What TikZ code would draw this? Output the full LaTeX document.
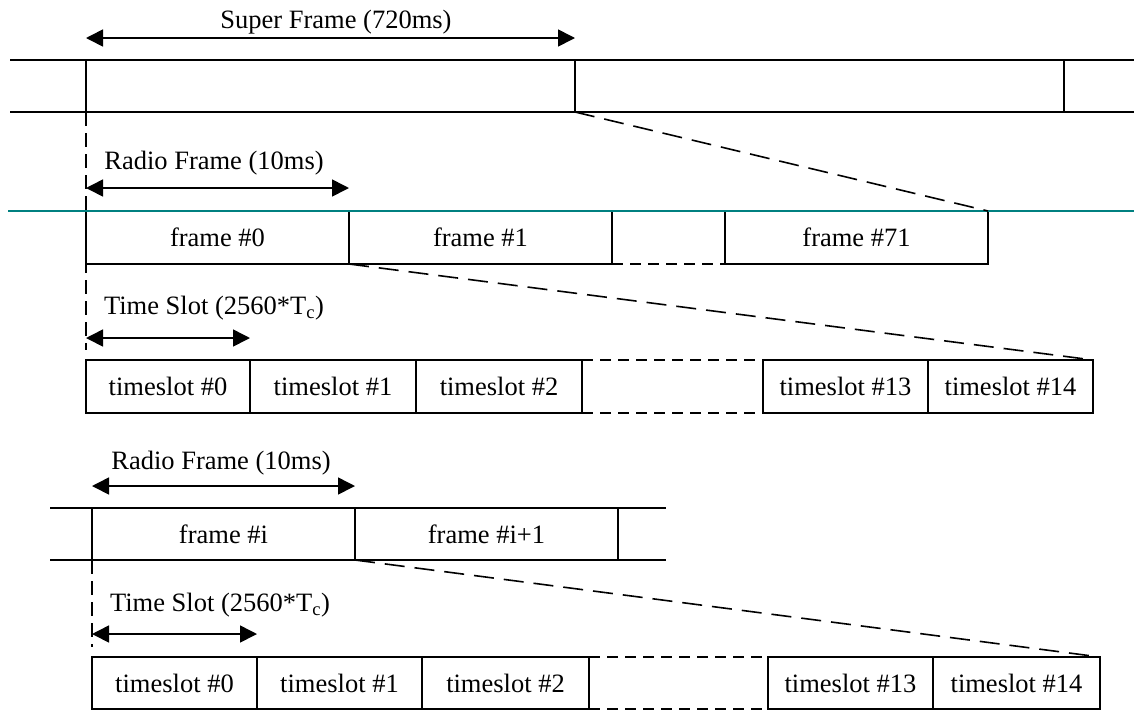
\documentclass[tikz,border=0pt]{standalone}
\usepackage{fontspec}
\setmainfont{Liberation Serif}
\usetikzlibrary{arrows.meta}

\definecolor{sealine}{RGB}{0,128,128}

\tikzset{
  cell/.style={draw, line width=1.6pt, inner sep=0pt, outer sep=0pt},
  rowa/.style={cell, minimum height=52pt},
  span/.style={{Triangle[length=17pt,width=17pt]}-{Triangle[length=17pt,width=17pt]}, line width=1.6pt},
  zoomline/.style={line width=1.6pt, dash pattern=on 20pt off 10pt},
  gapline/.style={line width=1.6pt, dash pattern=on 11pt off 7pt},
  guide/.style={line width=1.4pt, dash pattern=on 14pt off 7pt},
  stub/.style={line width=1.6pt},
}

\begin{document}
\begin{tikzpicture}[x=1pt, y=-1pt, font=\fontsize{26.5}{30}\selectfont]
                \useasboundingbox (0,0) rectangle (1134,713);

                % super frame row
                \node[rowa, minimum width=489pt] (sf1) at (330.5,86) {};
                \node[rowa, minimum width=489pt] (sf2) at (819.5,86) {};
                \draw[stub] (sf1.north west) -- +(-76,0);
                \draw[stub] (sf1.south west) -- +(-76,0);
                \draw[stub] (sf2.north east) -- +(70,0);
                \draw[stub] (sf2.south east) -- +(70,0);
                \node[] (sflbl) at (336,22) {Super Frame (720ms)};
                \coordinate (sfa) at (86,38);
                \coordinate (sfb) at (575,38);
                \draw[span] (sfa) -- (sfb);
                \coordinate (g1) at (86,350);
                \draw[guide] (sf1.south west) -- (g1);

                % radio frames
                \node[] (rflbl) at (214,163) {Radio Frame (10ms)};
                \coordinate (rfa) at (86,188);
                \coordinate (rfb) at (349,188);
                \draw[span] (rfa) -- (rfb);
                \node[cell, minimum width=263pt, minimum height=53pt] (f0) at (217.5,237.5) {frame \#0};
                \node[cell, minimum width=263pt, minimum height=53pt] (f1) at (480.5,237.5) {frame \#1};
                \node[cell, minimum width=263pt, minimum height=53pt] (f71) at (856.5,237.5) {frame \#71};
                \draw[gapline] (f1.north east) -- (f71.north west);
                \draw[gapline] (f1.south east) -- (f71.south west);
                \coordinate (tl1) at (8,211);
                \coordinate (tl2) at (1134,211);
                \draw[sealine, line width=1.8pt] (tl1) -- (tl2);
                \draw[zoomline] (sf1.south east) -- (f71.north east);

                % time slots
                \node[] (tslbl) at (214,308) {Time Slot (2560*T\textsubscript{c})};
                \coordinate (tsa) at (86,338);
                \coordinate (tsb) at (250,338);
                \draw[span] (tsa) -- (tsb);
                \node[cell, minimum width=164pt, minimum height=53pt] (ts0) at (168,386.5) {timeslot \#0};
                \node[cell, minimum width=166pt, minimum height=53pt] (ts1) at (333,386.5) {timeslot \#1};
                \node[cell, minimum width=166pt, minimum height=53pt] (ts2) at (499,386.5) {timeslot \#2};
                \node[cell, minimum width=165pt, minimum height=53pt] (ts13) at (845.5,386.5) {timeslot \#13};
                \node[cell, minimum width=165pt, minimum height=53pt] (ts14) at (1010.5,386.5) {timeslot \#14};
                \draw[gapline] (ts2.north east) -- (ts13.north west);
                \draw[gapline] (ts2.south east) -- (ts13.south west);
                \draw[zoomline] (f0.south east) -- (ts14.north east);

                % frame i
                \node[] (rilbl) at (221,463) {Radio Frame (10ms)};
                \coordinate (ria) at (92,486);
                \coordinate (rib) at (355,486);
                \draw[span] (ria) -- (rib);
                \node[rowa, minimum width=263pt] (fi) at (223.5,534) {frame \#i};
                \node[rowa, minimum width=263pt] (fi1) at (486.5,534) {frame \#i+1};
                \draw[stub] (fi.north west) -- +(-42,0);
                \draw[stub] (fi.south west) -- +(-42,0);
                \draw[stub] (fi1.north east) -- +(48,0);
                \draw[stub] (fi1.south east) -- +(48,0);
                \coordinate (g2) at (92,647);
                \draw[guide] (fi.south west) -- (g2);

                % time slots of frame i
                \node[] (tilbl) at (220,605) {Time Slot (2560*T\textsubscript{c})};
                \coordinate (tia) at (92,634);
                \coordinate (tib) at (257,634);
                \draw[span] (tia) -- (tib);
                \node[rowa, minimum width=165pt] (u0) at (174.5,683) {timeslot \#0};
                \node[rowa, minimum width=165pt] (u1) at (339.5,683) {timeslot \#1};
                \node[rowa, minimum width=167pt] (u2) at (505.5,683) {timeslot \#2};
                \node[rowa, minimum width=165pt] (u13) at (850.5,683) {timeslot \#13};
                \node[rowa, minimum width=167pt] (u14) at (1016.5,683) {timeslot \#14};
                \draw[gapline] (u2.north east) -- (u13.north west);
                \draw[gapline] (u2.south east) -- (u13.south west);
                \draw[zoomline] (fi.south east) -- (u14.north east);
            \end{tikzpicture}
\end{document}
